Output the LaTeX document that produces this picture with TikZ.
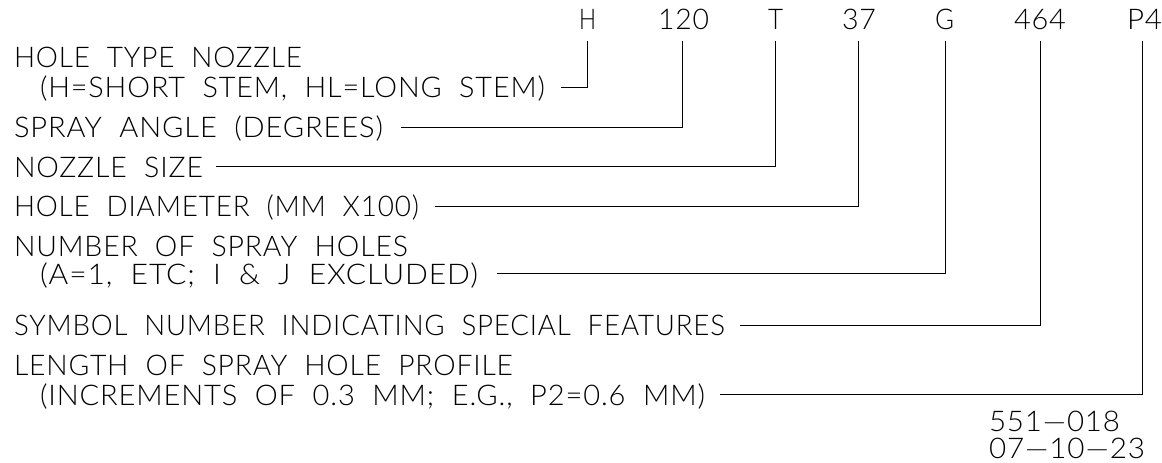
\documentclass[tikz,border=0pt]{standalone}
\usepackage{graphicx}
\usepackage{fontspec}
\setmainfont{Lato}[UprightFont=* Light,WordSpace=2.0,LetterSpace=3]
\tikzset{
  conn/.style={draw=black,line width=0.95pt,line join=miter},
  lbl/.style={anchor=base west,inner sep=0pt,outer sep=0pt,text=black,font=\fontsize{28.5}{28.5}\selectfont},
}
\newcommand{\fit}[2]{\resizebox{#1pt}{\height}{#2}}
\begin{document}
\begin{tikzpicture}[x=1pt,y=-1pt]
\useasboundingbox (0,0) rectangle (1162,463);
% code letters along the top
\node[lbl] (cH)   at (579,29)  {\fit{17}{H}};
\node[lbl] (c120) at (658,29)  {\fit{51}{120}};
\node[lbl] (cT)   at (768,29)  {\fit{15}{T}};
\node[lbl] (c37)  at (842,29)  {\fit{34}{37}};
\node[lbl] (cG)   at (935,29)  {\fit{19}{G}};
\node[lbl] (c464) at (1014,29) {\fit{52}{464}};
\node[lbl] (cP)   at (1127,29) {\fit{35}{P4}};
% descriptions
\node[lbl] (a1) at (14,67)  {\fit{288}{HOLE TYPE NOZZLE}};
\node[lbl] (a2) at (40,97)  {\fit{505}{(H=SHORT STEM, HL=LONG STEM)}};
\node[lbl] (b)  at (14,137) {\fit{369}{SPRAY ANGLE (DEGREES)}};
\node[lbl] (c)  at (14,177) {\fit{189}{NOZZLE SIZE}};
\node[lbl] (d)  at (14,216) {\fit{405}{HOLE DIAMETER (MM X100)}};
\node[lbl] (e1) at (14,256) {\fit{394}{NUMBER OF SPRAY HOLES}};
\node[lbl] (e2) at (40,284) {\fit{438}{(A=1, ETC; I \& J EXCLUDED)}};
\node[lbl] (f)  at (14,335) {\fit{711}{SYMBOL NUMBER INDICATING SPECIAL FEATURES}};
\node[lbl] (g1) at (14,375) {\fit{499}{LENGTH OF SPRAY HOLE PROFILE}};
\node[lbl] (g2) at (40,405) {\fit{665}{(INCREMENTS OF 0.3 MM; E.G., P2=0.6 MM)}};
\node[lbl] (n1) at (989,431) {\fit{131}{551---018}};
\node[lbl] (n2) at (989,458) {\fit{156}{07---10---23}};
% connectors
\draw[conn] ([shift={(16pt,10pt)}]a2.base east) -| ([yshift=-12pt]cH.base);
\draw[conn] ([shift={(18pt,10pt)}]b.base east)  -| ([shift={(-1.5pt,-12pt)}]c120.base);
\draw[conn] ([shift={(13pt,11pt)}]c.base east)  -| ([shift={(-.5pt,-12pt)}]cT.base);
\draw[conn] ([shift={(16pt,10pt)}]d.base east)  -| ([shift={(-1pt,-12pt)}]c37.base);
\draw[conn] ([shift={(19pt,11pt)}]e2.base east) -| ([shift={(.5pt,-12pt)}]cG.base);
\draw[conn] ([shift={(15pt,10pt)}]f.base east)  -| ([yshift=-12pt]c464.base);
\draw[conn] ([shift={(15pt,11pt)}]g2.base east) -| ([shift={(-2.5pt,-12pt)}]cP.base);
\end{tikzpicture}
\end{document}
